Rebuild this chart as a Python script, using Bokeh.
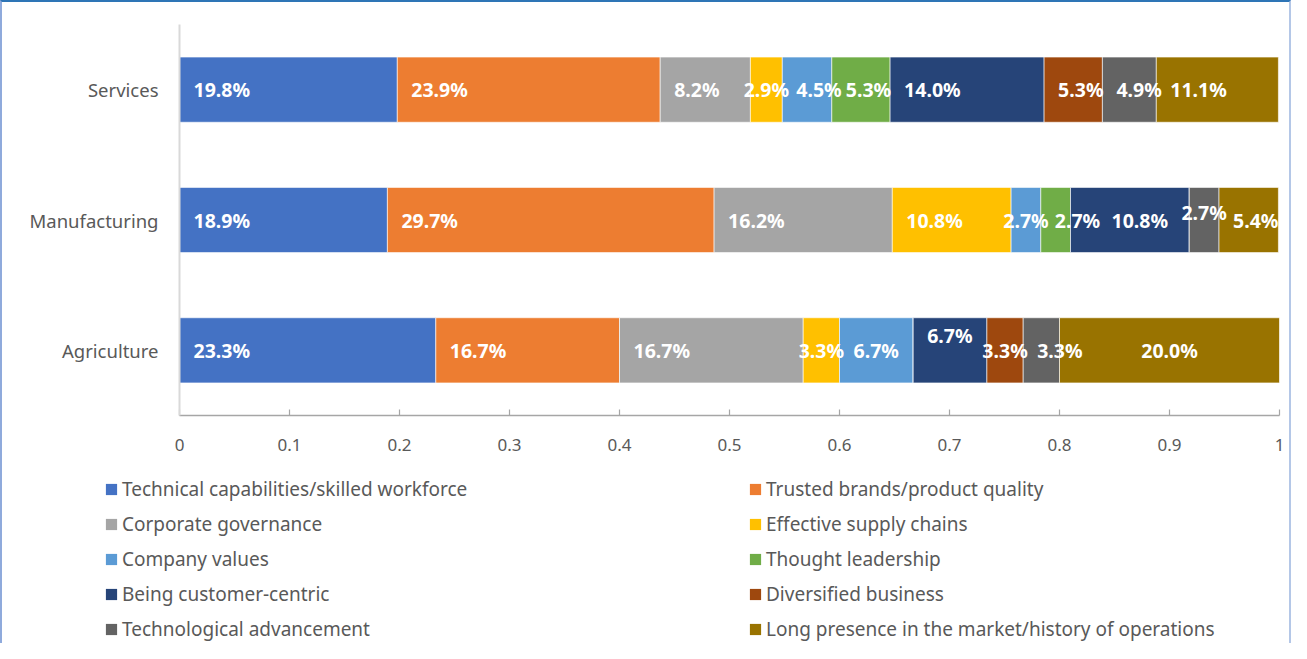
from bokeh.plotting import figure
from bokeh.layouts import column
from bokeh.models import ColumnDataSource, Legend, LegendItem, FactorRange, Range1d, FixedTicker
from bokeh.embed import file_html
from bokeh.resources import INLINE
from bokeh.core.properties import value

# ---------------- data ----------------
categories = ["Agriculture", "Manufacturing", "Services"]  # bottom -> top
series = [
    "Technical capabilities/skilled workforce",
    "Trusted brands/product quality",
    "Corporate governance",
    "Effective supply chains",
    "Company values",
    "Thought leadership",
    "Being customer-centric",
    "Diversified business",
    "Technological advancement",
    "Long presence in the market/history of operations",
]
colors = ["#4472C4", "#ED7D31", "#A5A5A5", "#FFC000", "#5B9BD5",
          "#70AD47", "#264478", "#9E480E", "#636363", "#997300"]

services = [19.8, 23.9, 8.2, 2.9, 4.5, 5.3, 14.0, 5.3, 4.9, 11.1]
manufacturing = [18.9, 29.7, 16.2, 10.8, 2.7, 2.7, 10.8, 0.0, 2.7, 5.4]
agriculture = [23.3, 16.7, 16.7, 3.3, 6.7, 0.0, 6.7, 3.3, 3.3, 20.0]

x_ticks = [0, 0.1, 0.2, 0.3, 0.4, 0.5, 0.6, 0.7, 0.8, 0.9, 1.0]
x_tick_labels = ["0", "0.1", "0.2", "0.3", "0.4", "0.5", "0.6", "0.7", "0.8", "0.9", "1"]

values_by_cat = {"Agriculture": agriculture, "Manufacturing": manufacturing, "Services": services}

FONT = "Noto Sans"
TEXT_COLOR = "#595959"
FRAME_W = 1100
W = 1287

p = figure(
    width=W, height=470,
    y_range=FactorRange(factors=categories, range_padding=0),
    x_range=Range1d(0, 1),
    output_backend="svg", toolbar_location=None,
    min_border_left=177, min_border_right=10, min_border_top=22, min_border_bottom=57,
    frame_width=FRAME_W, frame_height=391,
    background_fill_color="white", border_fill_color="white",
)
p.outline_line_color = None
p.grid.visible = False

data = {"cat": categories}
for i, s in enumerate(series):
    data[s] = [values_by_cat[c][i] / 100.0 for c in categories]
source = ColumnDataSource(data)

renderers = p.hbar_stack(series, y="cat", height=0.5, color=colors, source=source,
                         line_color="white", line_width=0.6)

# ---------------- data labels ----------------
tweaks = {
    ("Manufacturing", 5): dict(align="left"),
    ("Manufacturing", 6): dict(dx=27),
    ("Manufacturing", 8): dict(dy=-8),
    ("Agriculture", 6): dict(dy=-15),
    ("Agriculture", 8): dict(align="left"),
    ("Agriculture", 9): dict(align="center"),
}
lx, ly, lt, la, ldx, ldy = [], [], [], [], [], []
for c in categories:
    vals = values_by_cat[c]
    start = 0.0
    for i, v in enumerate(vals):
        frac = v / 100.0
        if v > 0:
            txt = f"{v:.1f}%"
            seg_px = frac * FRAME_W
            label_w = len(txt) * 10.5
            align = "center" if seg_px < label_w else "left"
            t = tweaks.get((c, i), {})
            align = t.get("align", align)
            if align == "center":
                x = start + frac / 2
                dx = 0
            else:
                x = start
                dx = 14
            dx += t.get("dx", 0)
            lx.append(x); ly.append(c); lt.append(txt); la.append(align)
            ldx.append(dx); ldy.append(t.get("dy", 0))
        start += frac

lsrc = ColumnDataSource(dict(x=lx, y=ly, text=lt, align=la, dx=ldx, dy=ldy))
p.text(x="x", y="y", text="text", source=lsrc, text_align="align", x_offset="dx", y_offset="dy",
       text_baseline="middle", text_color="white", text_font=value(FONT),
       text_font_style="bold", text_font_size="19.5px")

# ---------------- axes ----------------
xa = p.xaxis[0]
xa.ticker = FixedTicker(ticks=x_ticks)
xa.major_label_overrides = {t: l for t, l in zip(x_ticks, x_tick_labels)}
xa.axis_line_color = "#A6A6A6"
xa.axis_line_width = 1.5
xa.major_tick_line_color = "#A6A6A6"
xa.major_tick_line_width = 1.2
xa.major_tick_in = 6
xa.major_tick_out = 0
xa.minor_tick_line_color = None
xa.major_label_text_font = FONT
xa.major_label_text_font_size = "17px"
xa.major_label_text_color = TEXT_COLOR
xa.major_label_standoff = 23

ya = p.yaxis[0]
ya.axis_line_color = "#D9D9D9"
ya.axis_line_width = 2
ya.major_tick_line_color = None
ya.minor_tick_line_color = None
ya.major_label_text_font = FONT
ya.major_label_text_font_size = "18.5px"
ya.major_label_text_color = TEXT_COLOR
ya.major_label_standoff = 15

# ---------------- legend (separate strip below the chart) ----------------
lf = figure(width=W, height=171, x_range=Range1d(0, 1),
            y_range=FactorRange(factors=categories, range_padding=0),
            x_axis_type=None, y_axis_type=None, output_backend="svg", toolbar_location=None,
            min_border=0, background_fill_color="white", border_fill_color="white")
if "frame_align" in lf.properties():
    lf.frame_align = False
lf.outline_line_color = None
lf.grid.visible = False
ghost = lf.hbar_stack(series, y="cat", height=0.5, color=colors, source=source,
                      line_color=None, visible=False)
items = [LegendItem(label=s, renderers=[r]) for s, r in zip(series, ghost)]
legend = Legend(
    items=items, ncols=2, orientation="horizontal",
    location=(102, 1),
    glyph_width=14, glyph_height=14, label_standoff=4,
    label_width=617, label_height=20, spacing=9,
    padding=0, margin=0, inactive_fill_alpha=0,
    border_line_color=None, background_fill_alpha=0,
    label_text_font=FONT, label_text_font_size="19px", label_text_color=TEXT_COLOR,
)
lf.add_layout(legend, "center")

layout = column(p, lf, spacing=0,
                styles={"border-top": "2px solid #2E75B6", "border-left": "2px solid #8FAADC",
                        "border-right": "2px solid #B4C7E7"})

open("out.html", "w").write(file_html(layout, INLINE))
